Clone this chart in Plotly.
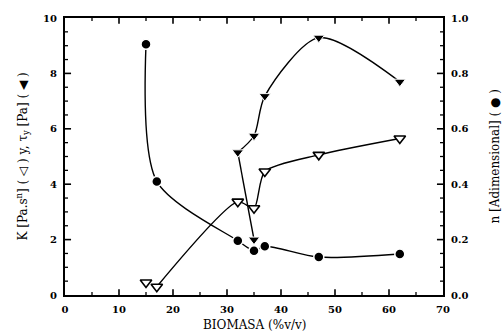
import plotly.graph_objects as go

# Data
n_x = [15, 17, 32, 35, 37, 47, 62]
n_y = [0.905, 0.41, 0.196, 0.16, 0.176, 0.137, 0.148]

k_x = [15, 17, 32, 35, 37, 47, 62]
k_y = [0.45, 0.30, 3.37, 3.13, 4.46, 5.06, 5.65]

tau_x = [35, 32, 35, 37, 47, 62]
tau_y = [2.0, 5.15, 5.75, 7.18, 9.29, 7.70]

x_major = [0, 10, 20, 30, 40, 50, 60, 70]
x_minor = [5, 15, 25, 35, 45, 55, 65]
y_major = [0, 2, 4, 6, 8, 10]
y_minor = [0.5, 1, 1.5, 2.5, 3, 3.5, 4.5, 5, 5.5, 6.5, 7, 7.5, 8.5, 9, 9.5]
y2_major = [0.0, 0.2, 0.4, 0.6, 0.8, 1.0]

X_RANGE = [0, 70]
Y_RANGE = [0, 10]

BLACK = "#000000"
TICKFONT = dict(family="DejaVu Serif", size=10, color=BLACK, weight="bold")
TITLEFONT = dict(family="DejaVu Serif", size=12, color=BLACK)

fig = go.Figure()

fig.add_trace(go.Scatter(x=n_x, y=n_y, yaxis="y2", mode="lines",
                         line=dict(color=BLACK, width=1.4, shape="spline", smoothing=0.8),
                         showlegend=False, hoverinfo="skip"))
fig.add_trace(go.Scatter(x=k_x[1:], y=k_y[1:], mode="lines",
                         line=dict(color=BLACK, width=1.4, shape="spline", smoothing=0.7),
                         showlegend=False, hoverinfo="skip"))
fig.add_trace(go.Scatter(x=tau_x[:2], y=tau_y[:2], mode="lines",
                         line=dict(color=BLACK, width=1.4),
                         showlegend=False, hoverinfo="skip"))
fig.add_trace(go.Scatter(x=tau_x[1:], y=tau_y[1:], mode="lines",
                         line=dict(color=BLACK, width=1.4, shape="spline", smoothing=0.8),
                         showlegend=False, hoverinfo="skip"))

fig.add_trace(go.Scatter(x=n_x, y=n_y, yaxis="y2", mode="markers",
                         marker=dict(symbol="circle", size=10, color=BLACK,
                                     line=dict(color="white", width=1.5)),
                         showlegend=False))
fig.add_trace(go.Scatter(x=k_x, y=k_y, mode="markers",
                         marker=dict(symbol="triangle-down", size=10, color="white",
                                     line=dict(color=BLACK, width=1.6)),
                         showlegend=False))
fig.add_trace(go.Scatter(x=tau_x, y=tau_y, mode="markers",
                         marker=dict(symbol="triangle-down", size=10, color=BLACK,
                                     line=dict(color="white", width=1)),
                         showlegend=False))

# Inward tick marks on all four sides, built from the tick arrays and axis ranges
def tick_segments(vals, frac, vertical):
    xs, ys = [], []
    xspan = X_RANGE[1] - X_RANGE[0]
    yspan = Y_RANGE[1] - Y_RANGE[0]
    for v in vals:
        if vertical:  # ticks on x axes (bottom and top)
            d = frac * yspan
            xs += [v, v, None, v, v, None]
            ys += [Y_RANGE[0], Y_RANGE[0] + d, None, Y_RANGE[1], Y_RANGE[1] - d, None]
        else:  # ticks on y axes (left and right)
            d = frac * xspan
            xs += [X_RANGE[0], X_RANGE[0] + d, None, X_RANGE[1], X_RANGE[1] - d, None]
            ys += [v, v, None, v, v, None]
    return xs, ys

for vals, frac, vert, w in ((x_major[1:-1], 0.021, True, 1.6),
                            (x_minor, 0.011, True, 1.3),
                            (y_major[1:-1], 0.016, False, 1.6),
                            (y_minor, 0.008, False, 1.3)):
    tx, ty = tick_segments(vals, frac, vert)
    fig.add_trace(go.Scatter(x=tx, y=ty, mode="lines",
                             line=dict(color=BLACK, width=w),
                             showlegend=False, hoverinfo="skip"))

axis_common = dict(ticks="", showline=True, linecolor=BLACK, linewidth=2,
                   showgrid=False, zeroline=False, tickfont=TICKFONT,
                   ticklabelstandoff=4)

fig.update_layout(
    width=502, height=336,
    margin=dict(l=65, r=59, t=15, b=41),
    paper_bgcolor="white", plot_bgcolor="white",
    xaxis=dict(range=X_RANGE, tickvals=x_major, mirror=True, **axis_common),
    yaxis=dict(range=Y_RANGE, tickvals=y_major, **axis_common),
    yaxis2=dict(range=[0, 1], tickvals=y2_major, tickformat=".1f",
                overlaying="y", side="right", **axis_common),
    annotations=[
        dict(text="BIOMASA (%v/v)", x=0.5, y=0, xref="paper", yref="paper",
             xanchor="center", yanchor="middle", yshift=-30, showarrow=False,
             font=TITLEFONT),
        dict(text="K [Pa.s<sup>n</sup>] ( ◁ ) y, τ<sub>y</sub> [Pa] ( ◀ )",
             x=0, y=0.5, xref="paper", yref="paper", xanchor="center", yanchor="middle",
             xshift=-43, textangle=-90, showarrow=False, font=TITLEFONT),
        dict(text="n [Adimensional] ( ● )",
             x=1, y=0.5, xref="paper", yref="paper", xanchor="center", yanchor="middle",
             xshift=51, textangle=-90, showarrow=False, font=TITLEFONT),
    ],
)

fig.write_html("out.html")
